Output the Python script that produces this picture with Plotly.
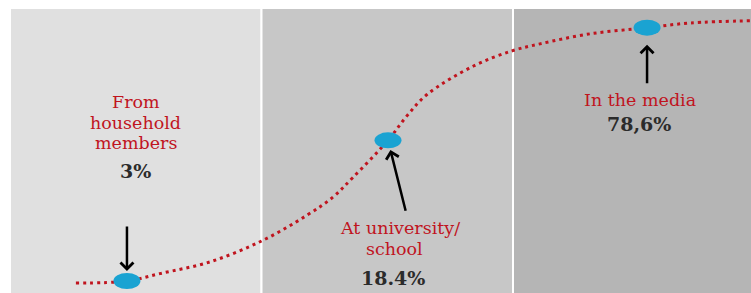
import math
import plotly.graph_objects as go

# ---------------- data ----------------
categories = ["From household members", "At university/ school", "In the media"]
label_lines = [["From", "household", "members"], ["At university/", "school"], ["In the media"]]
values = [3, 18.4, 78.6]
value_labels = ["3%", "18.4%", "78,6%"]

# decorative S-shaped trend curve (stage position, value)
trend_x = [0.262, 0.596, 0.795, 1.002, 1.181, 1.284, 1.364, 1.579, 1.658, 1.841, 1.996, 2.107, 2.306, 2.704, 2.96]
trend_values = [2.92, 3.30, 3.84, 5.04, 7.01, 8.85, 11.42, 25.3, 33.2, 47.8, 58.3, 63.8, 72.6, 83.5, 86.0]

# ---------------- layout / style ----------------
W, H = 751, 293
X_RANGE = [-0.0398, 2.9463]
Y_RANGE = [0.41, 2.0504]          # log10 units
DOT_X = [0.465, 1.503, 2.533]     # where each stage's marker sits inside its panel
DOT_HALF_W = 0.0537               # half marker width in stage units (~13.5 px)
DOT_K = 1.109                     # half marker height as a log-axis factor (~8 px)
PANEL_COLORS = ["#e0e0e0", "#c7c7c7", "#b5b5b5"]
RED = "#c0141e"
CYAN = "#1aa3d2"
DARK = "#2b2b2b"
LABEL_FONT = dict(family="DejaVu Serif", size=17.5, color=RED)
VALUE_FONT = dict(family="DejaVu Serif", size=19, color=DARK, weight="bold")

# label line centres (pixel y) and x shifts from the marker
label_y = [[102, 122.5, 143], [228.5, 249], [99.5]]
label_dx = [[9, 9, 9], [12, 6], [-7.5]]
value_y = [171, 277.5, 124]
value_dx = [9, 5, -8.5]
# arrows: tail offset (px) and stand-off from marker centre
arrow_ax = [0, 18, 0]
arrow_ay = [-56, 72, 57]
arrow_standoff = [10, 10, 17]


def paper_y(p):
    return 1 - p / H


pts = sorted(zip(trend_x + DOT_X, trend_values + values))
cx = [p[0] for p in pts]
cv = [p[1] for p in pts]

fig = go.Figure()
fig.add_trace(go.Scatter(
    x=cx, y=cv, mode="lines",
    line=dict(color=RED, width=3, dash="3px,4px", shape="spline", smoothing=1),
    hoverinfo="skip", showlegend=False,
))

shapes = []
for i, col in enumerate(PANEL_COLORS):
    shapes.append(dict(type="rect", xref="x", yref="paper", x0=i, x1=i + 1,
                       y0=-0.02, y1=paper_y(8), fillcolor=col,
                       line=dict(color="white", width=2), layer="below"))
for i, v in enumerate(values):
    shapes.append(dict(type="circle", xref="x", yref="y",
                       x0=DOT_X[i] - DOT_HALF_W, x1=DOT_X[i] + DOT_HALF_W,
                       y0=v / DOT_K, y1=v * DOT_K,
                       fillcolor=CYAN, line=dict(width=0), layer="above"))

annotations = []
for i, v in enumerate(values):
    annotations.append(dict(
        x=DOT_X[i], y=math.log10(v), xref="x", yref="y", text="",
        showarrow=True, ax=arrow_ax[i], ay=arrow_ay[i],
        axref="pixel", ayref="pixel", arrowhead=4, arrowsize=1,
        arrowwidth=2.5, arrowcolor="black", standoff=arrow_standoff[i],
    ))
    for j, line in enumerate(label_lines[i]):
        annotations.append(dict(
            x=DOT_X[i], xshift=label_dx[i][j], xref="x",
            y=paper_y(label_y[i][j]), yref="paper",
            text=line, showarrow=False, font=LABEL_FONT,
            xanchor="center", yanchor="middle",
        ))
    annotations.append(dict(
        x=DOT_X[i], xshift=value_dx[i], xref="x",
        y=paper_y(value_y[i]), yref="paper",
        text=value_labels[i], showarrow=False, font=VALUE_FONT,
        xanchor="center", yanchor="middle",
    ))

fig.update_layout(
    width=W, height=H,
    margin=dict(l=0, r=0, t=0, b=0),
    paper_bgcolor="white", plot_bgcolor="white",
    xaxis=dict(range=X_RANGE, visible=False, fixedrange=True),
    yaxis=dict(type="log", range=Y_RANGE, visible=False, fixedrange=True),
    shapes=shapes, annotations=annotations, showlegend=False,
)

fig.write_html(
    "out.html",
    config={"displayModeBar": False},
    post_script="document.body.style.margin='0px';",
)
